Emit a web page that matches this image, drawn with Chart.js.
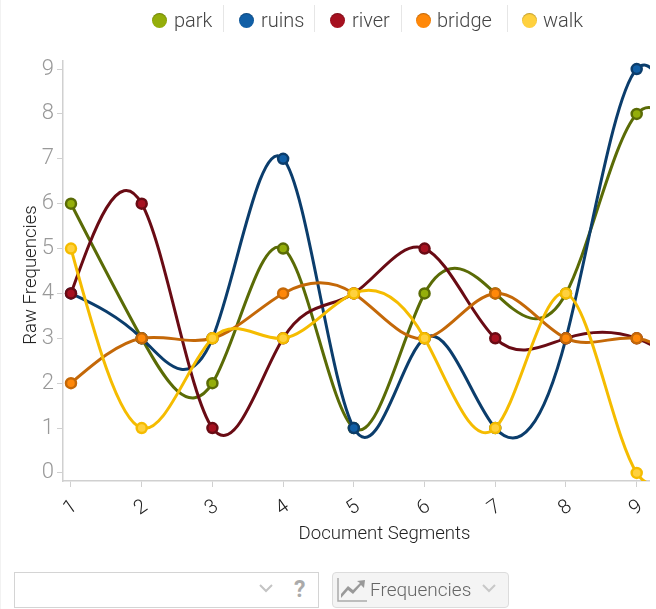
<!DOCTYPE html>
<html><head><meta charset="utf-8">
<script src="https://cdn.jsdelivr.net/npm/chart.js@4"></script>
<style>
html,body{margin:0;padding:0;background:#fff;width:656px;height:609px;overflow:hidden;font-family:Roboto,sans-serif;font-weight:300}
#wrap{position:absolute;left:0;top:0;width:656px;height:609px}
#clipbox{position:absolute;left:0;top:0;width:650px;height:609px;overflow:hidden}
canvas{position:absolute;left:0;top:0}
.abs{position:absolute}
.lg{position:absolute;top:8px;font-size:20px;line-height:24px;color:#444}
.dot{position:absolute;top:12.5px;width:15px;height:15px;border-radius:50%;box-shadow:inset 0 1px 1px rgba(0,0,0,.25)}
.sep{position:absolute;top:5px;width:1px;height:27px;background:#e6e6e6}
</style></head><body>
<div id="wrap"><div id="clipbox"><canvas id="c" width="720" height="609"></canvas></div>
<div class="abs" style="left:0;top:0;width:1px;height:609px;background:#f2f2f2"></div>
<div id="legend"></div>
<div class="abs" style="left:-70px;top:263px;width:200px;height:24px;line-height:24px;text-align:center;font-size:18.6px;color:#222;transform:rotate(-90deg)">Raw Frequencies</div>
<div class="abs" style="left:14px;top:572px;width:303px;height:34px;border:1.5px solid #d4d4d4;background:#fff"></div>
<svg class="abs" style="left:258px;top:582px" width="16" height="14"><path d="M2 3 L8 9 L14 3" fill="none" stroke="#c4c4c4" stroke-width="2"/></svg>
<div class="abs" style="left:294px;top:577px;font-size:23px;line-height:26px;font-weight:bold;color:#aaa">?</div>
<div class="abs" style="left:332px;top:572px;width:175px;height:34px;border:1.5px solid #dcdcdc;border-radius:4px;background:#f4f4f4"></div>
<svg class="abs" style="left:336px;top:577px" width="32" height="26"><path d="M2 1 V24 H31" fill="none" stroke="#aaa" stroke-width="1.5"/><path d="M5 21 L12 13 L17 17 L25 8 L28 11 L29 3 L21 4 L24 6 L17 13 L12 9 L5 17 Z" fill="#999"/></svg>
<div class="abs" style="left:370px;top:579px;font-size:19px;line-height:22px;color:#666">Frequencies</div>
<svg class="abs" style="left:481px;top:582px" width="16" height="14"><path d="M2 3 L8 9 L14 3" fill="none" stroke="#c8c8c8" stroke-width="2"/></svg>
</div>
<script>
const categories=[1,2,3,4,5,6,7,8,9,10];
const park=[6,3,2,5,1,4,4,4,8,6];
const ruins=[4,3,3,7,1,3,1,3,9,5];
const river=[4,6,1,3,4,5,3,3,3,2];
const bridge=[2,3,3,4,4,3,4,3,3,2];
const walk=[5,1,3,3,4,3,1,4,0,2];
const seriesNames=['park','ruins','river','bridge','walk'];
const seriesValues=[park,ruins,river,bridge,walk];
const fills=['#94ae0a','#115fa6','#a61120','#ff8809','#ffd13e'];
const strokes=['#5a6b06','#0b3d6c','#690b14','#c46808','#f5bc00'];
const lgDot=[159.5,246,337,423,529],lgText=[174,261,352,437,543],lgSep=[223,314,400.5,506.5];
const lg=document.getElementById('legend');
seriesNames.forEach((n,i)=>{
 lg.insertAdjacentHTML('beforeend',`<div class="dot" style="left:${lgDot[i]-7.5}px;background:${fills[i]}"></div><div class="lg" style="left:${lgText[i]}px">${n}</div>`);
 if(i<4)lg.insertAdjacentHTML('beforeend',`<div class="sep" style="left:${lgSep[i]}px"></div>`);
});
// natural cubic spline through the library's own point positions
const naturalSpline={id:'naturalSpline',afterDatasetsUpdate(chart){
 chart.getSortedVisibleDatasetMetas().forEach(meta=>{
  const line=meta.dataset,pts=meta.data,n=pts.length;
  line.updateControlPoints(chart.chartArea,'x');
  const a=new Array(n),b=new Array(n);
  let c=new Array(n);
  const ys=pts.map(p=>p.y);
  c[0]=0.5;b[0]=1.5*(ys[1]-ys[0]);
  for(let i=1;i<n;i++){
   const rhs=i<n-1?3*(ys[i+1]-ys[i-1]):3*(ys[i]-ys[i-1]);
   const diag=(i<n-1?4:2)-c[i-1];
   c[i]=1/diag;b[i]=(rhs-b[i-1])/diag;
  }
  a[n-1]=b[n-1];
  for(let i=n-2;i>=0;i--)a[i]=b[i]-c[i]*a[i+1];
  pts.forEach((p,i)=>{
   const dx=(i<n-1?pts[i+1].x-p.x:p.x-pts[i-1].x)/3;
   p.cp1x=p.x-dx;p.cp1y=p.y-a[i]/3;
   p.cp2x=p.x+dx;p.cp2y=p.y+a[i]/3;
  });
 });
}};
new Chart(document.getElementById('c'),{
 type:'line',
 plugins:[naturalSpline],
 data:{datasets:seriesNames.map((n,i)=>({
  label:n,
  data:categories.map((x,j)=>({x,y:seriesValues[i][j]})),
  borderColor:strokes[i],backgroundColor:fills[i],borderWidth:3,tension:0.5,capBezierPoints:false,
  pointRadius:5,pointBorderWidth:2.5,pointBackgroundColor:fills[i],pointBorderColor:strokes[i],
  order:4-i
 }))},
 options:{
  responsive:false,animation:false,
  layout:{padding:{top:61,right:14,bottom:60,left:0}},
  plugins:{legend:{display:false},tooltip:{enabled:false}},
  scales:{
   x:{type:'linear',min:0.887,max:9.98,
    afterBuildTicks(s){s.ticks=categories.slice(0,9).map(v=>({value:v}));},
    afterFit(s){s.height=68;},
    border:{color:'#d0d0d0',width:1.5},
    grid:{drawOnChartArea:false,tickLength:6,color:'#d0d0d0',tickWidth:1},
    ticks:{color:'#222',font:{family:'Roboto',weight:'300',size:20},minRotation:35,maxRotation:35,padding:8,labelOffset:4,callback:v=>String(v)},
    title:{display:true,text:'Document Segments',color:'#222',font:{family:'Roboto',weight:'300',size:18.6},padding:{top:0,bottom:3}}
   },
   y:{min:-0.18,max:9.18,
    afterBuildTicks(s){s.ticks=[0,1,2,3,4,5,6,7,8,9].map(v=>({value:v}));},
    afterFit(s){s.width=63;},
    border:{color:'#d0d0d0',width:1.5},
    grid:{drawOnChartArea:false,tickLength:6,color:'#d0d0d0',tickWidth:1},
    ticks:{color:'#999',font:{family:'Roboto',weight:'300',size:22},padding:3}
   }
  }
 }
});
</script></body></html>
